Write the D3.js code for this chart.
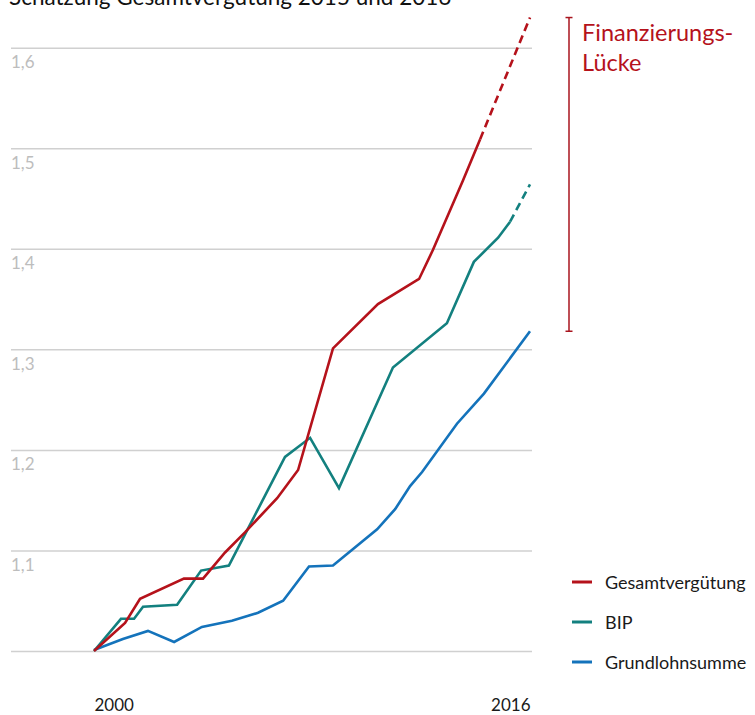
<!DOCTYPE html>
<html>
<head>
<meta charset="utf-8">
<script src="https://cdn.jsdelivr.net/npm/d3@7"></script>
<style>
  html, body { margin: 0; padding: 0; background: #fff; }
  svg { display: block; font-family: Lato, "Open Sans", sans-serif; }
</style>
</head>
<body>
<svg id="chart" width="755" height="715"></svg>
<script>
// ---------- data ----------
const title = "Schätzung Gesamtvergütung 2015 und 2016";
const xTickLabels = [2000, 2016];
const yTickValues = [1.0, 1.1, 1.2, 1.3, 1.4, 1.5, 1.6];
const seriesNames = ["Gesamtvergütung", "BIP", "Grundlohnsumme"];
const seriesColors = ["#b5121b", "#13807f", "#1473bb"];

// Gesamtvergütung (actual)
const gesamtYears  = [2000, 2001.14, 2001.69, 2003.3, 2004.0, 2004.81, 2005.54, 2006.72, 2007.49, 2008.77, 2010.42, 2011.93, 2012.44, 2013.54, 2014.17];
const gesamtValues = [1.000, 1.028, 1.052, 1.072, 1.072, 1.098, 1.118, 1.152, 1.180, 1.301, 1.345, 1.370, 1.399, 1.468, 1.509];
// Gesamtvergütung (estimate)
const gesamtEstYears  = [2014.17, 2016];
const gesamtEstValues = [1.509, 1.630];

// BIP (actual)
const bipYears  = [2000, 2000.99, 2001.47, 2001.8, 2003.05, 2003.93, 2004.95, 2007.01, 2007.93, 2008.99, 2010.97, 2012.95, 2013.94, 2014.83, 2015.27];
const bipValues = [1.000, 1.032, 1.032, 1.044, 1.046, 1.080, 1.085, 1.193, 1.212, 1.162, 1.282, 1.326, 1.387, 1.411, 1.427];
// BIP (estimate)
const bipEstYears  = [2015.27, 2016];
const bipEstValues = [1.427, 1.464];

// Grundlohnsumme
const gruYears  = [2000, 2001.06, 2001.98, 2002.94, 2003.96, 2005.06, 2006.02, 2006.94, 2007.89, 2008.77, 2010.39, 2011.05, 2011.6, 2012.04, 2013.32, 2014.31, 2016];
const gruValues = [1.001, 1.012, 1.020, 1.009, 1.024, 1.030, 1.038, 1.050, 1.084, 1.085, 1.121, 1.141, 1.164, 1.178, 1.226, 1.256, 1.318];

const gapLabel = ["Finanzierungs-", "Lücke"];

// ---------- drawing ----------
const svg = d3.select("#chart");
const x = d3.scaleLinear().domain([2000, 2016]).range([94, 530]);
const y = d3.scaleLinear().domain([1.0, 1.6]).range([651, 47.7]);

// title (partly cut off at the top, as in the reference)
svg.append("text")
  .attr("x", 9).attr("y", 5)
  .attr("font-size", 22.5).attr("fill", "#111")
  .text(title);

// grid lines via axis generator
const gridLeft = 11, gridRight = 532;
const yAxis = d3.axisRight(y)
  .tickValues(yTickValues)
  .tickSize(gridRight - gridLeft)
  .tickFormat(d => d === 1.0 ? "" : d3.format(".1f")(d).replace(".", ","));
const gy = svg.append("g").attr("transform", `translate(${gridLeft},0)`).call(yAxis);
gy.select(".domain").remove();
gy.selectAll(".tick line").attr("stroke", "#d0d0d0").attr("stroke-width", 1.5);
gy.selectAll(".tick text")
  .attr("x", 0).attr("dy", 0).attr("y", 20)
  .attr("text-anchor", "start")
  .attr("font-size", 17).attr("fill", "#bdbdbd")
  .attr("font-family", "Lato, 'Open Sans', sans-serif");

// x labels
const xAxis = d3.axisBottom(x).tickValues(xTickLabels).tickSize(0).tickFormat(d3.format("d"));
const gx = svg.append("g").attr("transform", "translate(0,698)").call(xAxis);
gx.select(".domain").remove();
gx.selectAll(".tick text")
  .attr("y", 13).attr("dy", 0)
  .attr("font-size", 17).attr("fill", "#1a1a1a")
  .attr("font-family", "Lato, 'Open Sans', sans-serif")
  .attr("text-anchor", (d, i) => i === 0 ? "start" : "end");

const line = d3.line().x(d => x(d[0])).y(d => y(d[1]));
const zip = (a, b) => a.map((v, i) => [v, b[i]]);

const series = [
  { pts: zip(gruYears, gruValues), color: seriesColors[2], dash: null },
  { pts: zip(bipYears, bipValues), color: seriesColors[1], dash: null },
  { pts: zip(bipEstYears, bipEstValues), color: seriesColors[1], dash: "8,5" },
  { pts: zip(gesamtYears, gesamtValues), color: seriesColors[0], dash: null },
  { pts: zip(gesamtEstYears, gesamtEstValues), color: seriesColors[0], dash: "8,5" }
];
svg.append("g").selectAll("path").data(series).join("path")
  .attr("d", d => line(d.pts))
  .attr("fill", "none")
  .attr("stroke", d => d.color)
  .attr("stroke-width", 2.6)
  .attr("stroke-linejoin", "miter")
  .attr("stroke-dasharray", d => d.dash);

// Finanzierungslücke bracket
const bx = 569;
const yTop = y(gesamtEstValues[gesamtEstValues.length - 1]);
const yBot = y(gruValues[gruValues.length - 1]);
const bracket = svg.append("g").attr("stroke", "#a8141e").attr("stroke-width", 1.5);
bracket.append("line").attr("x1", bx).attr("x2", bx).attr("y1", yTop).attr("y2", yBot);
bracket.append("line").attr("x1", bx - 3.5).attr("x2", bx + 3.5).attr("y1", yTop).attr("y2", yTop);
bracket.append("line").attr("x1", bx - 3.5).attr("x2", bx + 3.5).attr("y1", yBot).attr("y2", yBot);

svg.append("g").selectAll("text").data(gapLabel).join("text")
  .attr("x", 582).attr("y", (d, i) => 41 + i * 30)
  .attr("font-size", 23.5).attr("fill", "#b5121b")
  .text(d => d);

// legend
const lg = svg.append("g").selectAll("g").data(seriesNames).join("g")
  .attr("transform", (d, i) => `translate(0,${582 + i * 40})`);
lg.append("line").attr("x1", 572).attr("x2", 592).attr("y1", 0).attr("y2", 0)
  .attr("stroke", (d, i) => seriesColors[i]).attr("stroke-width", 3);
lg.append("text").attr("x", 605).attr("y", 6.5)
  .attr("font-size", 18).attr("fill", "#1a1a1a")
  .text(d => d);
</script>
</body>
</html>
